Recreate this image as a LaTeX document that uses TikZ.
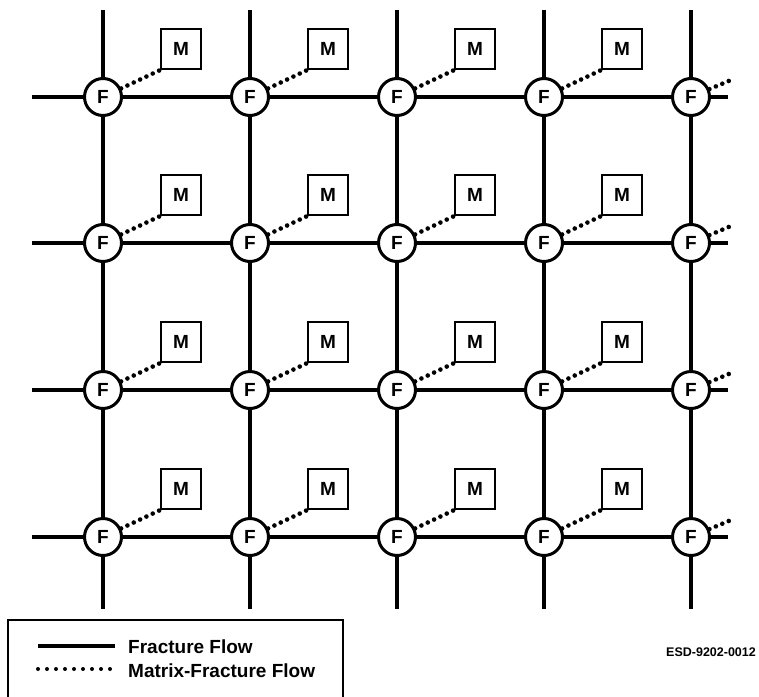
\documentclass[tikz,border=0pt]{standalone}
\usepackage{fontspec}
\setmainfont{Liberation Sans}
\begin{document}
\begin{tikzpicture}[x=1pt,y=-1pt,
  fnode/.style={circle,draw,line width=3pt,minimum size=37pt,inner sep=0pt,fill=white,
    font=\bfseries\fontsize{19}{19}\selectfont},
  mnode/.style={draw,line width=2.5pt,minimum size=40pt,inner sep=0pt,
    font=\bfseries\fontsize{19}{19}\selectfont},
  ff/.style={line width=3.4pt},
  mf/.style={line width=4.6pt,line cap=round,dash pattern=on 0pt off 7pt},
  legtext/.style={anchor=base west,inner sep=0pt,font=\bfseries\fontsize{19}{19}\selectfont}]
\useasboundingbox (0,0) rectangle (759,696);
\clip (0,0) rectangle (759,696);
% fracture nodes
\foreach \c [count=\i] in {103,250,397,544,691} {
  \foreach \r [count=\j] in {97,243,390,537} {
    \node[fnode] (F\i\j) at (\c,\r) {F};
  }
}
% matrix nodes and matrix-fracture connectors
\foreach \c [count=\i] in {103,250,397,544} {
  \foreach \r [count=\j] in {97,243,390,537} {
    \node[mnode] (M\i\j) at (\c+78,\r-48) {M};
    \draw[mf] (F\i\j) -- (M\i\j.south west);
  }
}
% right-hand matrix-fracture stubs
\foreach \r [count=\j] in {97,243,390,537} {
  \coordinate (S\j) at (731,\r-17);
  \draw[mf] (F5\j) -- (S\j);
}
% horizontal fracture flow
\foreach \r [count=\j] in {97,243,390,537} {
  \coordinate (L\j) at (32,\r);
  \coordinate (R\j) at (728,\r);
  \draw[ff] (L\j) -- (F1\j);
  \draw[ff] (F1\j) -- (F2\j);
  \draw[ff] (F2\j) -- (F3\j);
  \draw[ff] (F3\j) -- (F4\j);
  \draw[ff] (F4\j) -- (F5\j);
  \draw[ff] (F5\j) -- (R\j);
}
% vertical fracture flow
\foreach \c [count=\i] in {103,250,397,544,691} {
  \coordinate (T\i) at (\c,10);
  \coordinate (B\i) at (\c,609);
  \draw[ff] (T\i) -- (F\i1);
  \draw[ff] (F\i1) -- (F\i2);
  \draw[ff] (F\i2) -- (F\i3);
  \draw[ff] (F\i3) -- (F\i4);
  \draw[ff] (F\i4) -- (B\i);
}
% legend
\draw[line width=2pt] (8,620) rectangle (343,710);
\coordinate (la) at (38,646);
\coordinate (lb) at (115,646);
\coordinate (lc) at (38,669);
\coordinate (ld) at (110,669);
\draw[ff] (la) -- (lb);
\draw[mf,line width=4pt,dash pattern=on 0pt off 9pt] (lc) -- (ld);
\node[legtext] (t1) at (128,653) {Fracture Flow};
\node[legtext] (t2) at (128,677) {Matrix-Fracture Flow};
\node[inner sep=0pt,font=\bfseries\fontsize{12.5}{12.5}\selectfont] (id) at (711,652) {ESD-9202-0012};
\end{tikzpicture}
\end{document}
